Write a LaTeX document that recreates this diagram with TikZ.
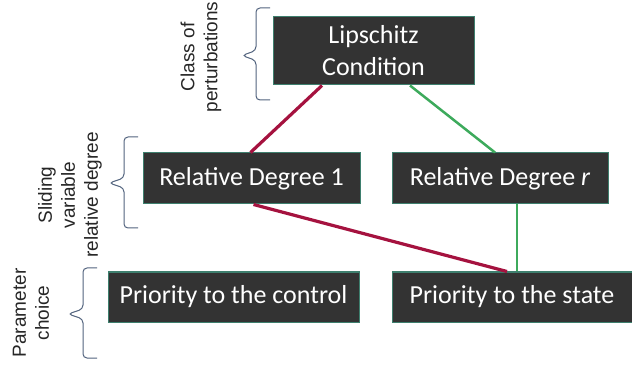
\documentclass[tikz,border=0pt]{standalone}
\usepackage{fontspec}
\setmainfont{Liberation Sans}
\newfontfamily\boxfont{Carlito}
\usetikzlibrary{calc}
\definecolor{boxfill}{HTML}{333333}
\definecolor{boxedge}{HTML}{3E7F6E}
\definecolor{redline}{HTML}{A5123F}
\definecolor{greenline}{HTML}{3DAA5C}
\definecolor{bracecol}{HTML}{52637E}
\begin{document}
\begin{tikzpicture}[x=1pt,y=-1pt,
  box/.style={rectangle,fill=boxfill,draw=boxedge,line width=1pt,text=white,
    font=\boxfont\fontsize{26}{32}\selectfont,align=center,inner sep=0pt},
  redc/.style={draw=redline,line width=3.2pt},
  greenc/.style={draw=greenline,line width=2.5pt},
  bracepath/.style={draw=bracecol,line width=1pt,rounded corners=4pt},
  sidelabel/.style={rotate=90,align=center,font=\fontsize{19}{23}\selectfont,text=black!85}]
\path[use as bounding box] (0,0) rectangle (632,366);
\node[box,minimum width=201pt,minimum height=68pt] (lip) at (373.5,51) {Lipschitz\\Condition};
\node[box,minimum width=217pt,minimum height=51pt] (rd1) at (251.5,178.5) {Relative Degree 1};
\node[box,minimum width=216pt,minimum height=51pt] (rdr) at (500,178.5) {Relative Degree \textit{r}};
\node[box,minimum width=251pt,minimum height=50pt] (pc) at (233.5,297) {Priority to the control};
\node[box,minimum width=240pt,minimum height=50pt] (ps) at (512,297) {Priority to the state};
\draw[redc] ($(lip.south)+(-51.5,0)$) -- ($(rd1.north)+(-1,0)$);
\draw[greenc] ($(lip.south)+(36.5,0)$) -- ($(rdr.north)+(-5,0)$);
\draw[redc] ($(rd1.south)+(2,0)$) -- ($(ps.north)+(-5,0)$);
\draw[greenc] ($(rdr.south)+(17,0)$) -- ($(ps.north)+(5,0)$);
% braces
\draw[bracepath] (270,8) -- (256,8) -- (256,50.5) -- (242,55.5) -- (256,60.5) -- (256,100) -- (270,100);
\draw[bracepath] (138,137) -- (124,137) -- (124,178) -- (109,183) -- (124,188) -- (124,228) -- (138,228);
\draw[bracepath] (97,268) -- (83,268) -- (83,309) -- (68,314) -- (83,319) -- (83,358) -- (97,358);
\node[sidelabel] (l1) at (201,57) {Class of\\perturbations};
\node[sidelabel] (l2) at (70,195) {Sliding\\variable\\relative degree};
\node[sidelabel] (l3) at (31,313) {Parameter\\choice};
\end{tikzpicture}
\end{document}
